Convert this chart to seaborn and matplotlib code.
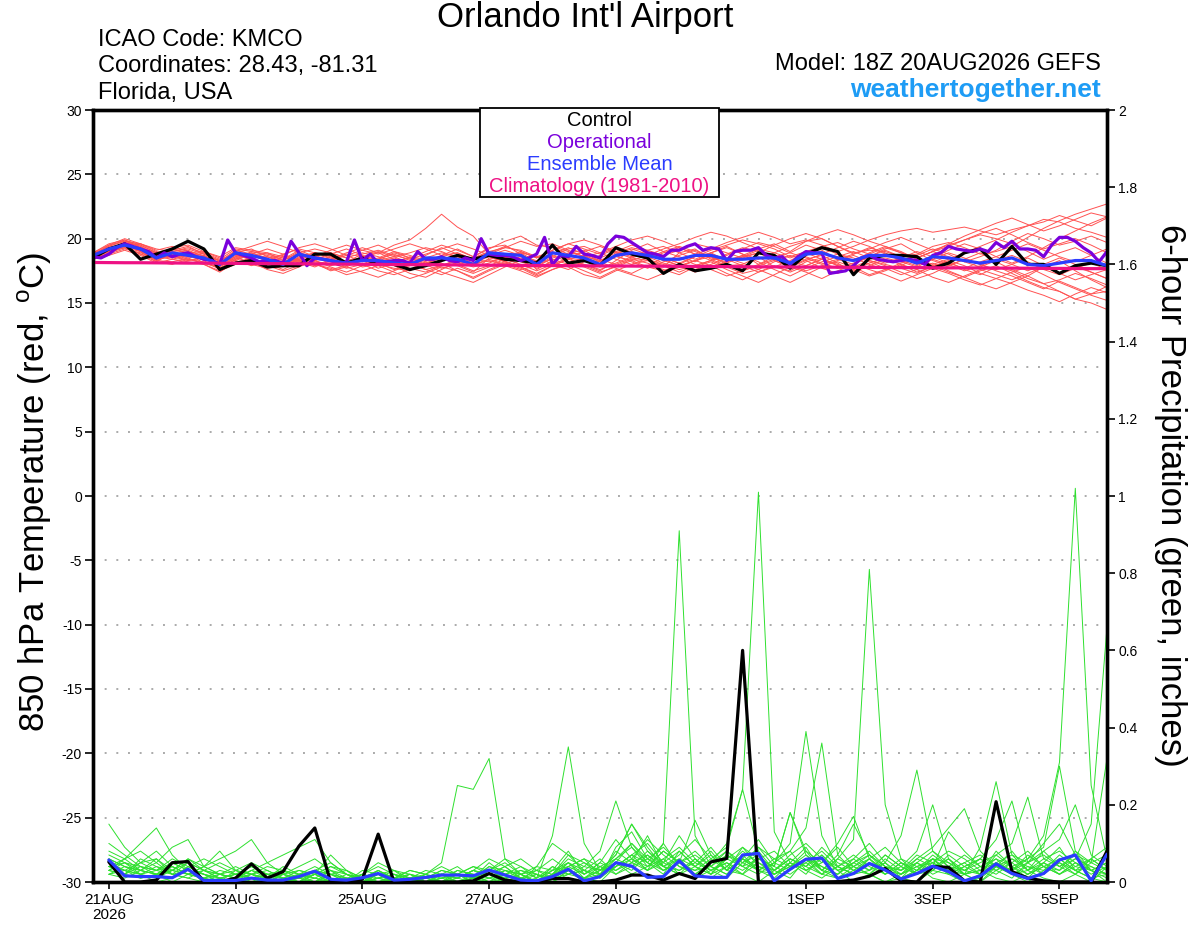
import numpy as np
import pandas as pd
import matplotlib
matplotlib.use("Agg")
import matplotlib.pyplot as plt
from matplotlib.patches import Rectangle
from matplotlib.ticker import FuncFormatter, MultipleLocator
import seaborn as sns

# ---------------- data ----------------
# temperature series: 6-hourly, forecast hours 0..384 (init 18Z 20AUG2026)
control_temp = [18.5,19.2,19.6,18.4,18.8,19.2,19.8,19.2,17.6,18.1,18.3,17.8,17.9,17.9,18.8,18.8,18.1,18.5,18.0,18.0,17.6,17.9,18.3,
                18.7,18.4,18.7,18.4,18.3,18.1,19.5,18.1,18.3,17.9,19.3,18.8,18.5,17.3,18.0,17.5,17.7,18.0,17.5,18.9,18.7,
                17.7,18.8,19.3,19.0,17.2,18.5,18.7,18.7,18.6,17.7,18.1,18.9,19.2,18.0,19.4,18.0,18.0,17.3,17.9,18.1,17.9]
mean_temp = [18.7,19.2,19.5,19.2,18.5,18.9,18.7,18.5,18.0,18.9,18.7,18.4,18.0,18.8,18.5,18.3,18.1,18.3,18.3,18.1,18.0,18.5,18.5,
             18.4,18.0,18.9,18.8,18.7,18.0,18.9,18.7,18.5,18.0,18.7,18.9,18.7,18.4,18.4,18.7,18.7,18.4,18.4,18.5,18.5,
             18.1,18.8,18.9,18.5,18.3,18.7,18.7,18.5,18.1,18.6,18.5,18.3,18.1,18.3,18.5,18.0,17.9,18.1,18.3,18.3,17.9]
clim_temp = [18.15,18.14,18.13,18.13,18.12,18.11,18.10,18.10,18.09,18.08,18.07,18.06,18.06,18.05,18.04,18.03,18.02,18.01,18.00,17.99,
             17.98,17.98,17.97,17.96,17.95,17.94,17.93,17.92,17.91,17.91,17.90,17.89,17.88,17.88,17.87,17.86,17.86,17.85,17.84,17.84,
             17.83,17.82,17.81,17.81,17.80,17.79,17.79,17.78,17.77,17.77,17.76,17.75,17.75,17.74,17.73,17.73,17.72,17.71,17.71,17.70,
             17.69,17.69,17.68,17.67,17.67]
# operational: 3-hourly, hours 0..384
oper_temp = [18.6,18.5,18.8,19.3,19.6,19.4,19.2,19.0,18.5,18.9,18.6,18.8,18.9,18.6,18.4,18.3,18.0,19.9,18.9,18.7,
             18.5,18.2,18.3,18.3,18.1,19.8,18.9,17.9,18.5,18.4,18.3,18.0,18.2,19.9,18.3,18.8,18.1,18.2,18.3,18.3,
             18.1,19.0,18.4,18.4,18.6,18.3,18.2,18.5,18.3,20.0,18.8,18.7,18.7,18.6,18.3,18.5,18.8,20.1,18.0,18.7,
             18.6,19.4,18.8,18.7,18.5,19.6,20.2,20.1,19.7,19.3,18.9,18.8,18.6,19.1,19.1,19.4,19.6,19.1,19.3,19.2,
             18.3,19.0,19.1,19.1,19.3,18.7,18.5,18.6,18.0,18.6,19.0,18.9,18.9,17.3,17.4,17.5,17.9,18.5,18.7,18.4,
             18.3,18.2,18.3,18.4,18.3,18.0,18.7,18.9,19.4,19.2,19.1,19.0,19.2,19.0,19.7,19.3,19.8,19.2,19.2,19.1,
             18.6,19.5,20.1,20.1,19.8,19.3,18.9,18.2,19.0]
# ensemble member temperatures (6-hourly, hours 0..384)
ens_temp = [
    [18.9,19.3,19.6,19.0,18.7,18.6,18.9,18.4,18.2,19.1,18.8,18.2,17.8,18.6,18.9,18.7,18.0,18.5,18.9,19.5,19.9,20.8,21.9,20.9,20.2,18.8,18.5,18.9,18.2,19.4,19.0,18.6,18.3,18.9,19.3,19.0,18.5,18.1,18.6,18.9,18.3,18.7,19.2,19.6,19.0,19.8,20.0,19.4,18.9,19.1,19.0,18.6,18.8,19.4,19.7,19.3,18.8,19.0,19.4,20.1,20.8,21.4,21.9,22.3,22.7],
    [18.6,19.0,19.4,19.2,18.3,18.8,18.5,18.7,17.9,18.6,18.5,18.6,18.3,19.0,18.2,18.0,18.3,17.8,18.0,17.7,17.5,18.2,18.0,17.9,17.4,18.5,18.3,18.9,17.6,18.3,18.9,19.1,18.4,18.0,18.5,18.3,17.8,18.9,19.2,18.4,17.9,18.0,18.6,17.8,17.5,18.2,18.5,17.9,17.6,18.3,18.0,17.7,17.3,17.9,18.2,17.6,17.2,17.8,17.5,16.9,16.5,16.8,17.3,16.9,16.4],
    [18.4,18.9,19.7,19.5,18.9,19.2,18.9,18.3,17.6,18.4,19.0,18.8,18.5,18.3,18.0,17.6,17.9,18.6,18.4,18.8,18.3,18.0,18.7,19.2,18.6,19.3,19.5,18.8,18.1,18.7,18.2,18.0,17.5,18.3,19.1,19.6,19.0,18.6,18.2,18.9,19.4,18.8,18.0,18.6,18.9,19.5,19.1,18.4,18.0,18.6,19.2,19.6,18.9,18.3,17.9,18.4,18.9,18.2,17.6,17.1,17.8,18.3,17.5,16.8,16.2],
    [18.8,19.4,19.9,19.3,18.6,18.4,18.2,18.0,17.4,18.2,18.4,18.1,17.6,18.2,18.7,18.9,18.5,18.0,17.5,17.2,17.6,18.1,18.5,18.2,17.8,18.1,18.6,19.0,18.5,19.1,19.6,19.2,18.8,19.3,18.9,18.4,18.0,17.6,17.9,18.3,18.8,19.3,19.0,18.7,18.2,17.9,18.4,18.8,18.5,18.0,17.6,17.9,18.5,19.0,19.4,19.9,20.3,20.0,19.6,19.0,18.4,18.9,19.3,18.7,18.1],
    [18.5,19.1,19.3,18.8,18.2,18.9,19.1,18.6,18.1,18.8,18.3,17.9,17.5,17.9,18.3,17.8,17.4,17.9,18.2,18.5,18.1,17.6,17.9,18.4,18.1,18.6,18.2,17.8,17.2,17.9,18.4,18.0,17.6,18.1,18.6,18.9,18.3,17.9,18.3,18.6,18.0,17.5,17.9,18.3,17.8,18.4,18.7,18.1,17.4,17.9,18.4,18.0,17.4,17.8,18.3,17.9,17.3,16.9,17.4,17.8,17.2,16.6,16.1,15.6,15.2],
    [18.7,19.5,19.8,19.4,18.8,19.0,18.6,18.9,18.4,19.2,19.0,18.7,18.4,19.1,18.6,18.4,18.8,18.6,18.2,17.9,17.3,17.0,17.6,18.2,18.5,19.0,19.3,19.1,18.6,19.0,18.5,18.3,17.9,18.6,18.3,17.8,17.5,18.0,18.6,19.1,19.5,19.9,19.6,19.2,18.6,19.0,19.4,19.7,19.2,18.8,19.3,18.9,18.5,19.0,18.6,18.2,18.6,19.1,19.8,20.4,20.0,19.5,19.8,20.2,19.7],
    [18.6,19.2,19.6,19.1,18.4,18.6,18.8,18.1,17.8,18.5,18.9,18.4,17.9,18.4,18.0,17.7,17.2,17.5,17.9,17.4,16.9,17.3,17.8,17.5,17.0,17.6,18.1,17.7,17.1,17.6,18.0,18.5,18.0,18.8,19.2,18.8,18.3,18.5,18.0,17.6,17.1,17.5,18.0,18.4,17.9,17.5,17.9,18.2,17.8,17.2,17.6,18.1,18.4,17.9,17.4,17.0,17.5,17.9,17.3,16.7,16.2,15.9,15.3,15.0,14.5],
    [18.8,19.0,19.5,19.6,19.0,18.7,18.3,18.5,18.0,18.7,18.6,18.9,18.6,18.1,18.4,18.8,19.2,18.7,18.3,18.6,18.9,19.3,19.0,18.5,18.0,18.4,18.0,17.6,17.9,18.6,19.2,19.4,18.9,18.4,18.0,18.5,19.0,19.4,19.0,18.5,18.2,18.6,18.9,18.3,17.8,18.3,18.8,19.3,19.8,19.4,18.8,18.3,17.9,18.5,19.1,19.6,19.2,18.6,18.1,18.6,19.3,20.0,20.6,21.2,21.7],
    [18.5,18.8,19.2,18.9,18.5,19.1,19.4,18.8,18.3,18.9,18.5,18.0,18.2,18.7,18.3,17.9,18.2,18.8,19.1,18.7,18.4,18.8,19.2,19.6,19.2,18.7,18.2,18.6,18.3,18.9,18.5,17.9,17.4,17.8,18.3,18.7,19.2,19.6,20.1,20.5,20.2,19.7,19.2,18.9,18.5,18.9,18.4,17.9,17.5,18.1,18.5,18.2,17.8,18.4,18.9,18.5,18.0,17.6,18.0,18.5,17.9,17.3,17.8,17.4,16.9],
    [18.9,19.6,19.9,19.5,18.9,18.5,18.9,19.0,18.5,18.3,17.9,18.3,18.8,19.2,18.9,18.5,18.0,18.3,17.7,18.1,18.6,18.2,17.7,18.0,18.5,18.9,18.6,18.2,17.8,18.5,18.8,18.4,18.2,18.7,19.0,18.6,18.1,17.8,18.3,18.8,18.4,17.9,17.4,17.8,18.3,18.9,19.3,18.8,18.3,18.9,19.4,19.0,18.4,18.0,18.4,18.9,19.4,19.9,20.5,21.0,21.5,21.3,20.8,20.5,20.1],
    [18.4,18.7,19.1,18.7,18.1,18.4,18.7,18.5,17.9,18.5,18.2,17.6,17.3,17.8,18.3,18.6,18.2,17.9,18.4,18.9,18.5,18.0,17.4,17.0,16.6,17.2,17.8,18.3,17.7,18.2,17.8,17.2,16.9,17.5,18.0,18.3,17.9,17.4,17.9,18.3,17.8,17.3,17.6,18.2,18.7,18.3,17.7,17.3,17.8,18.3,17.9,17.4,16.9,17.3,17.9,18.4,18.0,17.5,17.1,16.6,16.1,16.7,16.2,15.7,15.9],
    [18.7,19.1,19.4,19.3,18.7,19.3,19.5,19.0,18.6,19.3,19.1,18.9,18.3,18.9,19.2,18.9,18.5,18.9,18.6,18.2,18.5,19.0,19.5,19.1,18.6,19.2,19.8,20.2,19.5,19.3,18.8,18.9,18.5,19.0,19.5,19.1,18.7,19.1,19.6,19.3,18.9,18.5,18.9,19.5,20.0,20.4,20.0,19.4,18.8,19.2,19.7,20.1,19.6,19.1,19.5,19.9,20.4,20.8,20.3,19.7,19.2,19.6,20.0,19.5,18.9],
    [18.6,19.3,19.5,19.0,18.3,18.2,18.5,18.0,17.5,18.0,18.6,18.4,18.0,18.5,18.1,17.5,17.8,18.4,18.1,17.6,17.9,18.4,18.1,17.5,16.9,17.5,18.0,18.5,18.0,18.4,18.0,17.5,17.0,17.6,17.2,16.8,17.3,17.8,18.3,17.9,17.3,16.8,17.4,17.9,17.4,17.9,18.4,18.0,17.6,17.1,17.5,18.0,17.6,17.0,16.6,17.1,17.6,17.2,16.8,17.3,17.8,17.3,16.8,17.2,17.6],
    [18.8,19.2,19.7,19.4,18.6,18.7,19.0,18.7,18.1,18.6,18.9,18.5,18.7,19.3,19.6,19.2,18.7,18.2,18.5,19.0,18.7,18.3,18.6,18.9,18.4,18.2,18.5,18.9,18.6,18.0,17.6,18.2,18.7,19.2,18.8,18.4,18.9,19.3,18.8,18.3,18.7,19.2,19.7,19.4,18.9,18.5,18.0,18.4,18.8,19.3,18.9,18.3,18.7,19.2,18.8,18.2,17.8,18.3,18.7,18.2,17.6,17.2,17.7,18.1,17.6],
    [18.5,19.0,19.6,19.2,18.9,18.6,18.3,18.6,18.3,18.8,18.4,18.1,18.6,18.2,17.8,18.3,18.7,19.1,19.5,19.0,18.5,18.1,18.5,18.0,17.5,17.9,18.4,18.0,17.5,18.0,18.5,19.0,19.4,18.9,18.5,18.9,18.4,17.9,17.4,17.8,18.2,18.7,18.2,17.6,17.1,17.7,18.2,18.6,19.0,18.5,18.1,18.5,19.0,18.6,18.1,17.7,18.2,18.6,19.1,19.6,19.1,18.6,18.2,18.7,19.2],
    [18.7,19.4,19.8,19.6,19.1,19.4,19.0,18.5,17.9,18.3,18.8,19.2,18.8,18.3,17.9,18.4,18.9,19.3,18.9,18.4,18.0,18.5,18.9,18.6,18.1,18.7,19.1,18.7,18.2,18.8,19.3,18.8,18.3,18.7,18.2,17.7,18.2,18.7,19.1,18.6,18.1,18.6,19.1,18.6,18.1,18.6,18.1,17.7,18.1,18.6,19.1,18.6,18.0,18.4,18.0,17.5,17.9,18.4,18.0,17.5,18.0,18.5,18.0,17.4,16.9],
    [18.4,18.9,19.3,19.0,18.2,18.0,18.4,18.2,17.7,18.2,18.0,17.7,17.9,18.3,18.0,18.1,17.7,18.0,18.3,18.0,17.7,17.4,17.9,18.3,18.0,18.3,17.9,17.5,17.0,17.6,18.1,17.8,17.3,17.9,18.4,18.1,17.6,17.2,17.8,18.2,17.6,17.1,16.6,17.2,17.8,17.4,16.9,17.5,18.0,17.6,17.2,16.7,17.2,17.7,17.3,16.8,16.4,16.9,16.5,16.0,15.6,15.1,15.7,16.2,15.8],
    [18.9,19.5,20.0,19.6,19.2,19.0,19.2,18.8,18.3,19.0,19.4,19.8,19.4,18.9,18.6,19.1,19.5,19.1,18.8,19.2,19.6,19.2,18.7,18.9,18.4,18.8,19.3,19.8,19.4,19.6,19.1,18.6,18.9,19.4,19.9,20.2,19.8,19.3,18.8,19.2,19.7,20.1,20.5,20.1,19.6,19.9,19.5,19.0,19.4,19.9,20.3,20.6,20.8,20.5,20.7,20.9,20.6,20.3,20.7,21.0,21.3,21.8,21.4,21.0,21.6],
    [18.6,19.0,19.3,18.8,18.5,18.8,18.4,18.1,17.7,18.4,18.7,18.3,17.9,18.4,18.7,18.3,17.8,17.4,17.0,17.5,18.0,17.6,17.2,17.7,17.3,17.8,18.2,17.8,17.3,17.9,18.4,18.7,18.2,17.7,17.3,17.9,18.5,18.1,17.6,18.0,18.5,18.1,17.6,17.1,16.6,17.2,17.8,18.3,18.7,18.2,17.7,17.2,17.6,18.1,17.5,17.0,16.5,16.1,16.6,17.1,16.5,15.9,15.3,15.7,16.3],
    [18.8,19.3,19.5,19.1,18.4,19.0,19.3,18.9,18.2,18.9,19.2,18.6,18.1,18.5,18.9,18.6,18.1,18.6,19.0,18.6,18.1,18.7,19.3,18.8,18.3,18.9,19.4,19.0,18.5,19.1,19.6,19.9,19.5,19.0,18.6,19.1,19.4,18.9,18.4,18.9,19.3,18.8,18.4,18.9,19.4,19.8,20.3,20.7,20.3,19.8,19.4,18.9,18.5,19.0,19.6,20.2,20.7,21.2,21.6,21.1,20.6,21.0,21.5,22.0,21.7],
]
# precipitation series: 6-hourly totals, hours 6..384 (inches)
control_precip = [0.052,0.0,0.0,0.005,0.05,0.053,0.0,0.0,0.01,0.047,0.01,0.027,0.093,0.14,0.0,0.0,0.007,0.124,0.0,
                  0.0,0.0,0.0,0.0,0.003,0.022,0.005,0.0,0.002,0.009,0.009,0.0,0.0,0.005,0.018,0.018,0.005,0.022,0.009,0.052,0.061,0.60,
                  0.0,0.0,0.0,0.0,0.0,0.001,0.005,0.015,0.035,0.003,0.0,0.04,0.038,0.003,0.0,0.208,0.027,0.01,0.003,0.0,0.0,0.0,0.08]
mean_precip = [0.057,0.016,0.014,0.014,0.011,0.033,0.004,0.004,0.004,0.010,0.005,0.005,0.014,0.028,0.007,0.005,0.011,0.022,0.005,
               0.007,0.012,0.018,0.018,0.016,0.031,0.018,0.005,0.003,0.014,0.033,0.003,0.014,0.050,0.041,0.012,0.014,0.055,0.016,0.012,0.012,0.070,
               0.074,0.003,0.033,0.059,0.062,0.009,0.022,0.048,0.031,0.008,0.022,0.041,0.027,0.003,0.016,0.047,0.022,0.009,0.022,0.057,0.070,0.003,0.072]
ens_precip = [
    [0.05,0.03,0.02,0.00,0.01,0.04,0.02,0.00,0.00,0.01,0.00,0.02,0.04,0.06,0.03,0.00,0.01,0.03,0.00,0.00,0.01,0.02,0.00,0.01,0.05,0.02,0.00,0.00,0.03,0.08,0.02,0.05,0.11,0.06,0.03,0.10,0.91,0.12,0.04,0.02,0.06,0.03,0.01,0.05,0.09,0.03,0.01,0.04,0.02,0.00,0.01,0.03,0.06,0.02,0.00,0.01,0.04,0.02,0.00,0.03,0.05,0.02,0.00,0.04],
    [0.08,0.06,0.03,0.02,0.05,0.03,0.00,0.01,0.02,0.04,0.02,0.01,0.00,0.03,0.05,0.02,0.00,0.00,0.01,0.03,0.02,0.00,0.01,0.03,0.06,0.04,0.01,0.00,0.02,0.05,0.01,0.03,0.07,0.15,0.09,0.04,0.06,0.02,0.05,0.10,0.24,1.01,0.13,0.05,0.02,0.07,0.03,0.00,0.02,0.05,0.01,0.00,0.03,0.06,0.02,0.00,0.04,0.08,0.03,0.01,0.00,0.02,0.06,0.03],
    [0.03,0.02,0.05,0.08,0.04,0.02,0.01,0.00,0.03,0.02,0.01,0.04,0.02,0.00,0.01,0.00,0.02,0.05,0.03,0.01,0.00,0.02,0.04,0.01,0.00,0.03,0.02,0.00,0.01,0.04,0.06,0.02,0.08,0.05,0.12,0.04,0.02,0.06,0.03,0.01,0.05,0.09,0.04,0.18,0.08,0.03,0.06,0.11,0.81,0.20,0.06,0.02,0.05,0.03,0.00,0.02,0.07,0.04,0.01,0.05,0.09,0.03,0.01,0.00],
    [0.04,0.05,0.02,0.01,0.03,0.06,0.03,0.01,0.00,0.02,0.03,0.01,0.00,0.02,0.04,0.03,0.00,0.01,0.02,0.00,0.01,0.00,0.02,0.04,0.02,0.00,0.01,0.02,0.00,0.03,0.01,0.00,0.04,0.07,0.03,0.06,0.02,0.04,0.08,0.03,0.02,0.05,0.03,0.01,0.06,0.04,0.02,0.05,0.03,0.07,0.04,0.02,0.06,0.03,0.05,0.02,0.08,0.04,0.06,0.12,0.31,1.02,0.25,0.06],
    [0.06,0.04,0.03,0.05,0.02,0.01,0.00,0.02,0.01,0.03,0.01,0.00,0.02,0.04,0.02,0.00,0.00,0.02,0.01,0.03,0.02,0.04,0.02,0.00,0.03,0.06,0.04,0.01,0.12,0.35,0.10,0.03,0.05,0.02,0.04,0.08,0.05,0.02,0.01,0.04,0.07,0.03,0.02,0.05,0.03,0.01,0.04,0.02,0.06,0.03,0.01,0.05,0.03,0.02,0.04,0.06,0.03,0.01,0.05,0.08,0.04,0.06,0.15,0.66],
    [0.04,0.02,0.04,0.03,0.06,0.04,0.02,0.01,0.00,0.01,0.00,0.00,0.00,0.01,0.00,0.00,0.02,0.01,0.00,0.00,0.02,0.05,0.25,0.24,0.32,0.06,0.02,0.00,0.01,0.03,0.00,0.02,0.05,0.03,0.07,0.04,0.02,0.01,0.03,0.05,0.02,0.00,0.03,0.06,0.04,0.02,0.01,0.03,0.02,0.00,0.02,0.04,0.01,0.00,0.02,0.03,0.01,0.00,0.02,0.04,0.06,0.03,0.01,0.02],
    [0.10,0.07,0.04,0.03,0.02,0.05,0.03,0.02,0.04,0.02,0.01,0.00,0.02,0.03,0.01,0.00,0.03,0.02,0.00,0.01,0.00,0.02,0.01,0.03,0.02,0.00,0.00,0.02,0.01,0.05,0.03,0.01,0.09,0.13,0.06,0.03,0.05,0.08,0.04,0.02,0.06,0.11,0.05,0.10,0.39,0.12,0.04,0.02,0.05,0.03,0.01,0.03,0.06,0.03,0.02,0.00,0.03,0.05,0.02,0.04,0.02,0.05,0.03,0.01],
    [0.03,0.02,0.06,0.04,0.02,0.01,0.03,0.02,0.01,0.00,0.02,0.01,0.00,0.00,0.02,0.01,0.00,0.03,0.01,0.00,0.01,0.03,0.02,0.00,0.02,0.04,0.01,0.00,0.02,0.03,0.01,0.04,0.06,0.10,0.05,0.02,0.08,0.04,0.02,0.06,0.04,0.09,0.06,0.08,0.14,0.36,0.07,0.03,0.05,0.02,0.04,0.02,0.03,0.07,0.04,0.02,0.05,0.03,0.06,0.09,0.30,0.08,0.03,0.05],
    [0.02,0.03,0.01,0.02,0.00,0.02,0.04,0.08,0.03,0.01,0.00,0.02,0.03,0.02,0.00,0.01,0.00,0.02,0.00,0.01,0.03,0.02,0.00,0.01,0.03,0.05,0.02,0.00,0.04,0.02,0.01,0.03,0.04,0.07,0.10,0.05,0.03,0.06,0.02,0.04,0.08,0.05,0.02,0.04,0.07,0.03,0.02,0.06,0.10,0.05,0.12,0.29,0.08,0.04,0.02,0.09,0.26,0.07,0.03,0.05,0.02,0.04,0.06,0.03],
    [0.07,0.05,0.03,0.06,0.03,0.02,0.04,0.06,0.08,0.11,0.05,0.02,0.01,0.03,0.02,0.00,0.01,0.02,0.00,0.00,0.01,0.00,0.03,0.02,0.00,0.02,0.04,0.02,0.00,0.03,0.05,0.02,0.06,0.04,0.08,0.05,0.12,0.06,0.03,0.05,0.03,0.06,0.04,0.02,0.05,0.08,0.04,0.06,0.03,0.07,0.04,0.08,0.20,0.06,0.03,0.05,0.07,0.10,0.22,0.06,0.04,0.07,0.03,0.02],
    [0.05,0.03,0.02,0.04,0.03,0.06,0.04,0.02,0.01,0.03,0.05,0.07,0.09,0.11,0.05,0.02,0.00,0.01,0.00,0.02,0.01,0.03,0.02,0.04,0.03,0.01,0.02,0.00,0.02,0.06,0.04,0.08,0.21,0.09,0.05,0.03,0.06,0.04,0.02,0.07,0.05,0.03,0.06,0.04,0.08,0.05,0.10,0.17,0.06,0.03,0.02,0.04,0.06,0.05,0.02,0.03,0.06,0.04,0.02,0.05,0.03,0.06,0.04,0.02],
    [0.15,0.09,0.05,0.03,0.04,0.02,0.01,0.03,0.02,0.00,0.01,0.02,0.00,0.02,0.04,0.02,0.00,0.01,0.03,0.00,0.00,0.01,0.02,0.00,0.03,0.02,0.00,0.01,0.03,0.04,0.02,0.05,0.03,0.06,0.04,0.08,0.05,0.16,0.07,0.03,0.06,0.04,0.02,0.05,0.03,0.06,0.04,0.02,0.03,0.05,0.02,0.06,0.04,0.13,0.08,0.04,0.02,0.05,0.08,0.04,0.02,0.05,0.03,0.00],
    [0.03,0.06,0.10,0.14,0.07,0.03,0.02,0.01,0.02,0.04,0.02,0.01,0.00,0.02,0.07,0.03,0.01,0.00,0.02,0.01,0.00,0.02,0.01,0.03,0.01,0.00,0.02,0.03,0.01,0.02,0.04,0.03,0.07,0.15,0.08,0.04,0.03,0.05,0.09,0.04,0.02,0.07,0.03,0.06,0.04,0.09,0.05,0.03,0.06,0.02,0.05,0.03,0.07,0.04,0.03,0.06,0.11,0.21,0.05,0.02,0.06,0.03,0.04,0.02],
    [0.04,0.06,0.08,0.05,0.09,0.11,0.04,0.02,0.01,0.03,0.02,0.00,0.01,0.02,0.01,0.00,0.02,0.00,0.01,0.02,0.00,0.01,0.03,0.02,0.00,0.01,0.03,0.02,0.00,0.02,0.03,0.02,0.04,0.07,0.05,0.10,0.04,0.03,0.06,0.03,0.09,0.06,0.04,0.18,0.07,0.04,0.02,0.05,0.07,0.04,0.02,0.05,0.08,0.05,0.03,0.02,0.05,0.03,0.07,0.04,0.03,0.08,0.05,0.03],
    [0.06,0.04,0.02,0.03,0.05,0.03,0.02,0.00,0.01,0.02,0.00,0.01,0.03,0.02,0.00,0.01,0.02,0.04,0.02,0.00,0.01,0.02,0.00,0.01,0.04,0.02,0.01,0.03,0.06,0.03,0.01,0.02,0.05,0.10,0.06,0.04,0.07,0.11,0.06,0.09,0.24,0.08,0.03,0.06,0.04,0.07,0.03,0.05,0.08,0.04,0.03,0.06,0.09,0.14,0.19,0.08,0.04,0.06,0.03,0.08,0.11,0.20,0.07,0.04],
    [0.02,0.04,0.03,0.02,0.01,0.04,0.06,0.04,0.02,0.01,0.00,0.02,0.01,0.00,0.03,0.01,0.00,0.02,0.00,0.01,0.02,0.00,0.01,0.03,0.02,0.01,0.00,0.04,0.10,0.07,0.03,0.01,0.04,0.06,0.11,0.07,0.04,0.02,0.05,0.08,0.04,0.02,0.05,0.03,0.06,0.02,0.04,0.07,0.04,0.02,0.05,0.03,0.04,0.06,0.02,0.04,0.03,0.06,0.04,0.02,0.05,0.03,0.06,0.09],
    [0.03,0.05,0.04,0.02,0.03,0.02,0.03,0.05,0.03,0.02,0.01,0.00,0.01,0.03,0.02,0.01,0.00,0.01,0.02,0.01,0.00,0.01,0.02,0.01,0.04,0.03,0.01,0.00,0.02,0.07,0.05,0.03,0.06,0.09,0.04,0.06,0.09,0.05,0.03,0.06,0.09,0.04,0.03,0.07,0.10,0.06,0.03,0.04,0.06,0.09,0.05,0.02,0.04,0.03,0.05,0.07,0.04,0.02,0.03,0.06,0.08,0.05,0.02,0.04],
    [0.04,0.03,0.05,0.06,0.02,0.03,0.01,0.02,0.03,0.05,0.03,0.01,0.02,0.01,0.03,0.02,0.01,0.00,0.01,0.00,0.02,0.01,0.00,0.02,0.01,0.03,0.02,0.04,0.03,0.05,0.02,0.04,0.03,0.05,0.07,0.03,0.05,0.07,0.04,0.08,0.05,0.07,0.02,0.04,0.05,0.02,0.06,0.04,0.07,0.03,0.06,0.04,0.05,0.08,0.06,0.03,0.05,0.07,0.05,0.10,0.15,0.07,0.05,0.32],
    [0.02,0.01,0.03,0.02,0.04,0.02,0.01,0.00,0.01,0.02,0.04,0.03,0.01,0.00,0.02,0.03,0.01,0.02,0.03,0.02,0.01,0.00,0.02,0.01,0.02,0.04,0.06,0.03,0.02,0.04,0.06,0.04,0.02,0.04,0.06,0.09,0.05,0.03,0.04,0.07,0.04,0.06,0.08,0.04,0.06,0.03,0.07,0.15,0.07,0.04,0.03,0.07,0.05,0.02,0.04,0.06,0.04,0.03,0.05,0.07,0.04,0.02,0.05,0.07],
    [0.05,0.02,0.01,0.02,0.03,0.05,0.03,0.01,0.02,0.01,0.02,0.03,0.02,0.01,0.00,0.02,0.01,0.03,0.01,0.02,0.00,0.02,0.01,0.00,0.01,0.02,0.03,0.01,0.04,0.02,0.03,0.06,0.02,0.05,0.03,0.05,0.08,0.04,0.07,0.03,0.06,0.03,0.05,0.08,0.03,0.05,0.09,0.04,0.02,0.06,0.03,0.05,0.02,0.04,0.07,0.04,0.06,0.02,0.04,0.03,0.07,0.04,0.03,0.05],
]
tick_days = [0, 2, 4, 6, 8, 11, 13, 15]          # days after 21AUG 00Z
tick_labels = ["21AUG\n2026", "23AUG", "25AUG", "27AUG", "29AUG", "1SEP", "3SEP", "5SEP"]
legend_entries = ["Control", "Operational", "Ensemble Mean", "Climatology (1981-2010)"]

# ---------------- style ----------------
sns.set_theme(style="white")
plt.rcParams["font.family"] = ["Liberation Sans", "DejaVu Sans"]
plt.rcParams["mathtext.fontset"] = "custom"
plt.rcParams["mathtext.rm"] = "Liberation Sans"
plt.rcParams["text.color"] = "black"

C_RED = "#ff5252"
C_GREEN = "#2ee02e"
C_BLACK = "#000000"
C_PURPLE = "#7a00dc"
C_BLUE = "#2b3cff"
C_PINK = "#ee1184"

W, H = 1200, 927
fx = lambda x: x / W
fy = lambda y: 1 - y / H

fig = plt.figure(figsize=(12, 9.27), dpi=100)
ax = fig.add_axes([fx(93), fy(882), (1107 - 93) / W, (882 - 110) / H])
ax2 = ax.twinx()

hours6 = list(range(0, 385, 6))
hours3 = list(range(0, 385, 3))
hours_p = list(range(6, 385, 6))

def long_df(members, hours, name):
    rows = []
    for i, m in enumerate(members):
        for h, v in zip(hours, m):
            rows.append((i, h, v))
    return pd.DataFrame(rows, columns=["member", "hour", name])

df_t = long_df(ens_temp, hours6, "temp")
df_p = long_df(ens_precip, hours_p, "precip")

# temperature (left axis)
sns.lineplot(data=df_t, x="hour", y="temp", units="member", estimator=None,
             color=C_RED, lw=0.7, ax=ax, legend=False, zorder=2)
sns.lineplot(x=hours6[:len(control_temp)], y=control_temp, color=C_BLACK, lw=2.3, ax=ax, zorder=3)
sns.lineplot(x=hours3[:len(oper_temp)], y=oper_temp, color=C_PURPLE, lw=2.3, ax=ax, zorder=4)
sns.lineplot(x=hours6[:len(mean_temp)], y=mean_temp, color=C_BLUE, lw=2.3, ax=ax, zorder=5)
sns.lineplot(x=hours6[:len(clim_temp)], y=clim_temp, color=C_PINK, lw=2.3, ax=ax, zorder=6)

# precipitation (right axis)
sns.lineplot(data=df_p, x="hour", y="precip", units="member", estimator=None,
             color=C_GREEN, lw=0.7, ax=ax2, legend=False, zorder=2)
sns.lineplot(x=hours_p[:len(control_precip)], y=control_precip, color=C_BLACK, lw=2.3, ax=ax2, zorder=3)
sns.lineplot(x=hours_p[:len(mean_precip)], y=mean_precip, color=C_BLUE, lw=2.3, ax=ax2, zorder=4)

ax.set_xlim(0, 384)
ax.set_ylim(-30, 30)
ax2.set_ylim(0, 2)
ax.set_xlabel("")
ax.set_ylabel("")
ax2.set_ylabel("")

ax.yaxis.set_major_locator(MultipleLocator(5))
ax2.yaxis.set_major_locator(MultipleLocator(0.2))
ax2.yaxis.set_major_formatter(FuncFormatter(lambda v, p: f"{v:g}"))
ax.yaxis.set_major_formatter(FuncFormatter(lambda v, p: f"{v:g}"))

ax.set_xticks([6 + 24 * d for d in tick_days])
ax.set_xticklabels(tick_labels, fontsize=11, linespacing=1.05)

for gy in range(-25, 30, 5):
    ax.axhline(gy, color="#aaaaaa", lw=1.4, ls=(0, (1, 5)), zorder=0.5)

for a in (ax, ax2):
    for s in a.spines.values():
        s.set_linewidth(2.4)
        s.set_color("black")
ax.tick_params(axis="y", direction="out", length=6, width=1.2, labelsize=10, pad=2, left=True,
               colors="black", labelcolor="black")
ax.tick_params(axis="x", direction="out", length=5, width=1.2, pad=3, bottom=True,
               colors="black", labelcolor="black")
ax2.tick_params(axis="y", direction="out", length=6, width=1.2, labelsize=10, pad=2, right=True,
                colors="black", labelcolor="black")

# axis titles
fig.text(fx(35), fy(492), r"850 hPa Temperature (red, $^{\mathrm{o}}$C)", rotation=90,
         ha="center", va="center", fontsize=25, color="black")
fig.text(fx(1171), fy(495), "6-hour Precipitation (green, inches)", rotation=270,
         ha="center", va="center", fontsize=25, color="black")

# header texts
fig.text(fx(585), fy(18), "Orlando Int'l Airport", ha="center", va="center", fontsize=25, color="black")
fig.text(fx(98), fy(40), "ICAO Code: KMCO", ha="left", va="center", fontsize=17, color="black")
fig.text(fx(98), fy(66), "Coordinates: 28.43, -81.31", ha="left", va="center", fontsize=17, color="black")
fig.text(fx(98), fy(93), "Florida, USA", ha="left", va="center", fontsize=17, color="black")
fig.text(fx(1101), fy(64), "Model: 18Z 20AUG2026 GEFS", ha="right", va="center", fontsize=17, color="black")
fig.text(fx(1101), fy(90), "weathertogether.net", ha="right", va="center", fontsize=19,
         fontweight="bold", color="#1e9cf5")

# legend box
fig.add_artist(Rectangle((fx(480), fy(197)), (719 - 480) / W, (197 - 108) / H,
                         transform=fig.transFigure, facecolor="white", edgecolor="black",
                         lw=1.3, zorder=10))
for txt, col, yy in zip(legend_entries, [C_BLACK, C_PURPLE, C_BLUE, C_PINK], [121, 142, 164, 186]):
    fig.text(fx(599.5), fy(yy), txt, ha="center", va="center", fontsize=14.5, color=col, zorder=11)

fig.savefig("out.png", dpi=100)
